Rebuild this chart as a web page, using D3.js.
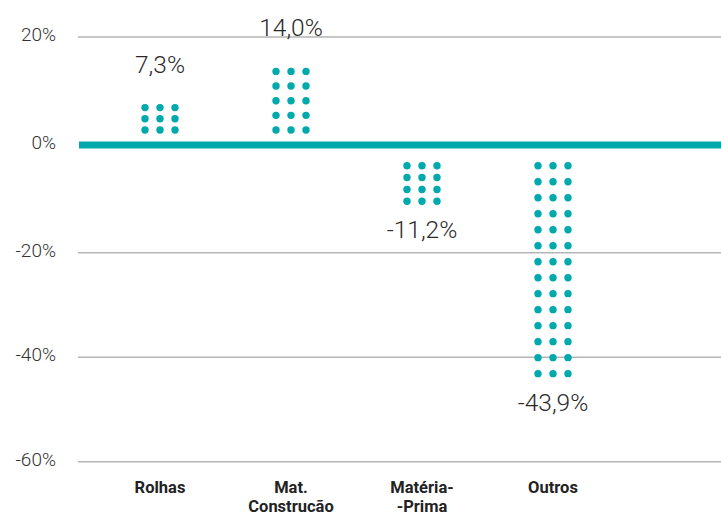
<!DOCTYPE html>
<html>
<head>
    <meta charset="utf-8">
    <title>Variação por categoria</title>
    <style>
        body { margin: 0; background: #fff; }
        svg { display: block; font-family: Roboto, "Noto Sans", sans-serif; }
        .grid line { stroke: #b5b5b5; stroke-width: 1.5px; }
        .tick-label { fill: #333; font-size: 19px; font-weight: 300; }
        .value-label { fill: #2a2a2a; font-size: 24.5px; font-weight: 300; }
        .cat-label { fill: #222; font-size: 16.5px; font-weight: 700; }
    </style>
</head>
<body>
    <svg width="721" height="516"></svg>

    <script src="https://d3js.org/d3.v7.min.js"></script>
    <script>
        // data
        const categories = [["Rolhas"], ["Mat.", "Construcão"], ["Matéria-", "-Prima"], ["Outros"]];
        const values = [7.3, 14.0, -11.2, -43.9];
        const valueLabels = ["7,3%", "14,0%", "-11,2%", "-43,9%"];
        const dotRows = [3, 5, 4, 14];
        const tickValues = [20, 0, -20, -40, -60];
        const tickLabels = ["20%", "0%", "-20%", "-40%", "-60%"];

        const teal = "#00a9ac";
        const svg = d3.select("svg");

        const gridLeft = 78, gridRight = 721;

        // gridlines in the source are not evenly spaced, so a piecewise scale
        const y = d3.scaleLinear()
            .domain([-60, -40, -20, 0, 20])
            .range([461.7, 357.3, 252.7, 145, 37]);

        const x = d3.scalePoint()
            .domain(d3.range(values.length))
            .range([160, 553]);

        // gridlines + tick labels
        const grid = svg.append("g").attr("class", "grid");
        tickValues.filter(t => t !== 0).forEach(t => {
            grid.append("line")
                .attr("x1", gridLeft).attr("x2", gridRight)
                .attr("y1", y(t)).attr("y2", y(t));
        });

        svg.selectAll(".tick-label")
            .data(tickValues)
            .enter().append("text")
            .attr("class", "tick-label")
            .attr("x", 56)
            .attr("y", d => y(d) + 4)
            .attr("text-anchor", "end")
            .text((d, i) => tickLabels[i]);

        // zero line
        svg.append("rect")
            .attr("x", gridLeft + 1)
            .attr("y", y(0) - 3.5)
            .attr("width", gridRight - gridLeft)
            .attr("height", 7)
            .attr("fill", teal);

        // dot columns
        const colGap = 15, r = 3.7;
        const bars = values.map((v, i) => {
            const pos = v >= 0;
            const start = pos ? y(0) - 15 : y(0) + 20.7;
            const end = pos ? y(v) + 2 : y(v) - 4;
            const n = dotRows[i];
            const rows = d3.range(n).map(k => start + (end - start) * k / (n - 1));
            return { i, v, pos, start, end, rows };
        });

        const dots = [];
        bars.forEach(b => {
            b.rows.forEach(ry => {
                [-1, 0, 1].forEach(c => dots.push({ cx: x(b.i) + c * colGap, cy: ry }));
            });
        });

        svg.selectAll(".dot")
            .data(dots)
            .enter().append("circle")
            .attr("class", "dot")
            .attr("cx", d => d.cx)
            .attr("cy", d => d.cy)
            .attr("r", r)
            .attr("fill", teal);

        // value labels
        svg.selectAll(".value-label")
            .data(bars)
            .enter().append("text")
            .attr("class", "value-label")
            .attr("x", d => x(d.i))
            .attr("y", d => d.pos ? d.end - 35 : d.end + 37)
            .attr("text-anchor", "middle")
            .text(d => valueLabels[d.i]);

        // category labels
        const cat = svg.selectAll(".cat-label")
            .data(categories)
            .enter().append("text")
            .attr("class", "cat-label")
            .attr("x", (d, i) => x(i))
            .attr("y", 493)
            .attr("text-anchor", "middle");

        cat.selectAll("tspan")
            .data(d => d)
            .enter().append("tspan")
            .attr("x", function () { return d3.select(this.parentNode).attr("x"); })
            .attr("dy", (d, k) => k === 0 ? 0 : 19)
            .text(d => d);
    </script>
</body>
</html>
